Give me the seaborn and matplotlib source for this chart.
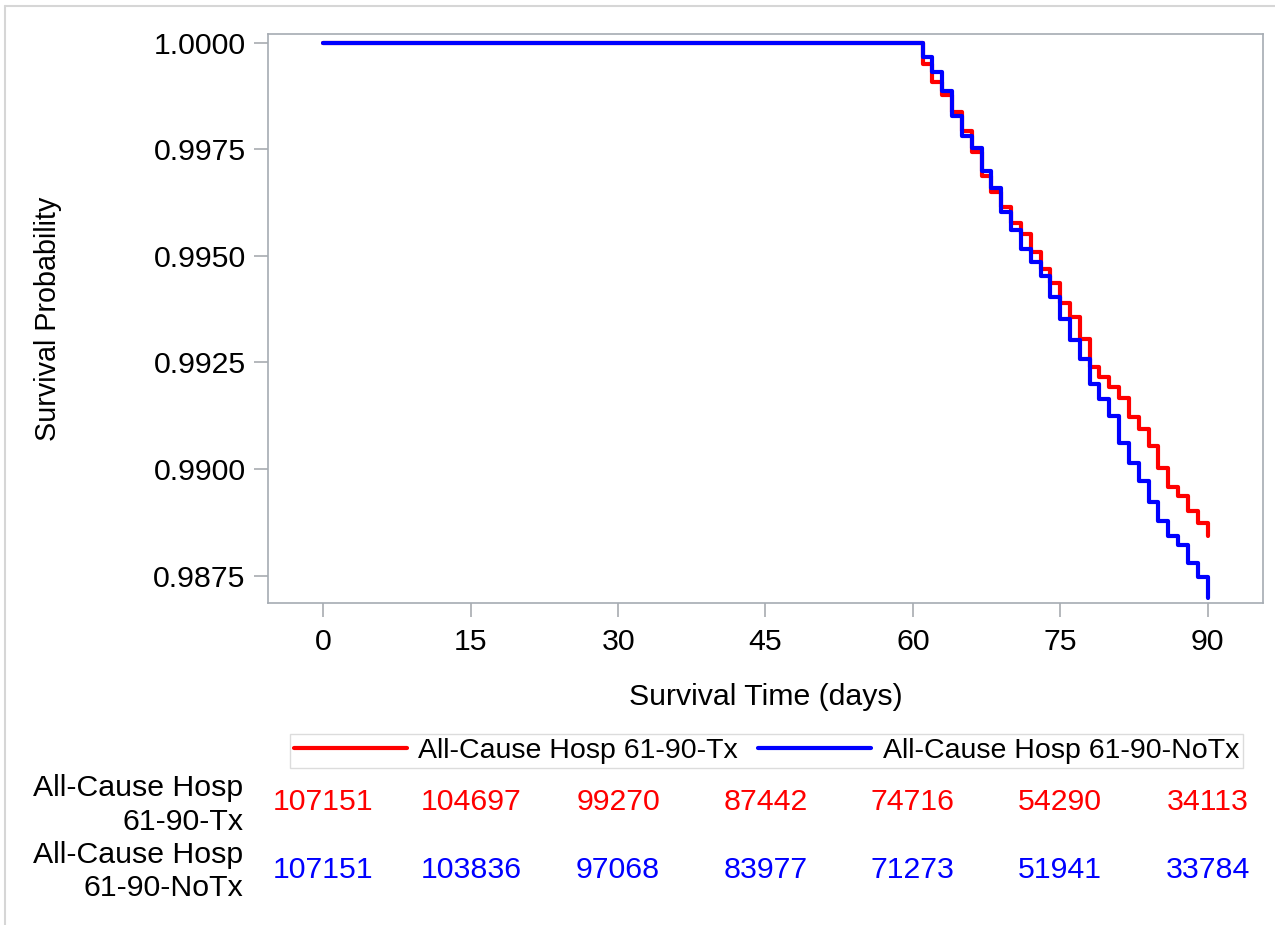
import matplotlib
matplotlib.use("Agg")
import matplotlib.pyplot as plt
import matplotlib.transforms as mtransforms
from matplotlib.lines import Line2D
import seaborn as sns
import numpy as np
import pandas as pd

# ========================================
# Data
# ========================================
days = [0, 61, 62, 63, 64, 65, 66, 67, 68, 69, 70, 71, 72, 73, 74, 75,
        76, 77, 78, 79, 80, 81, 82, 83, 84, 85, 86, 87, 88, 89, 90]

surv_tx = [1.0, 0.99950, 0.99907, 0.99878, 0.99838, 0.99792, 0.99743, 0.99687,
           0.99650, 0.99614, 0.99576, 0.99552, 0.99509, 0.99470, 0.99437, 0.99390,
           0.99357, 0.99306, 0.99239, 0.99215, 0.99193, 0.99166, 0.99122, 0.99094,
           0.99053, 0.99002, 0.98958, 0.98936, 0.98902, 0.98873, 0.98842]

surv_notx = [1.0, 0.99967, 0.99932, 0.99887, 0.99827, 0.99781, 0.99752, 0.99700,
             0.99658, 0.99603, 0.99560, 0.99517, 0.99486, 0.99453, 0.99404, 0.99351,
             0.99303, 0.99259, 0.99199, 0.99164, 0.99125, 0.99061, 0.99014, 0.98971,
             0.98922, 0.98877, 0.98842, 0.98822, 0.98780, 0.98746, 0.98698]

groups = ['All-Cause Hosp 61-90-Tx', 'All-Cause Hosp 61-90-NoTx']
colors = ['#ff0000', '#0000ff']

risk_times = [0, 15, 30, 45, 60, 75, 90]
risk_tx = [107151, 104697, 99270, 87442, 74716, 54290, 34113]
risk_notx = [107151, 103836, 97068, 83977, 71273, 51941, 33784]
row_labels = ['All-Cause Hosp\n61-90-Tx', 'All-Cause Hosp\n61-90-NoTx']

y_ticks = [0.9875, 0.9900, 0.9925, 0.9950, 0.9975, 1.0000]
x_ticks = [0, 15, 30, 45, 60, 75, 90]

# ========================================
# Build long table for seaborn
# ========================================
df = pd.concat([
    pd.DataFrame({'time': days, 'surv': surv_tx, 'group': groups[0]}),
    pd.DataFrame({'time': days, 'surv': surv_notx, 'group': groups[1]}),
], ignore_index=True)

# ========================================
# Plot
# ========================================
sns.set_style('white')
plt.rcParams['font.family'] = ['Liberation Sans', 'DejaVu Sans']
plt.rcParams['text.color'] = 'black'
plt.rcParams['axes.labelcolor'] = 'black'
fs = 21.8
W, H = 1275, 925

fig = plt.figure(figsize=(W / 100, H / 100), dpi=100)
ax = fig.add_axes([268 / W, 1 - 603.3 / H, (1263 - 268) / W, (603.3 - 33.7) / H])

sns.lineplot(data=df, x='time', y='surv', hue='group', hue_order=groups,
             palette=colors, drawstyle='steps-post', linewidth=3.0,
             estimator=None, legend=False, ax=ax)

ax.set_xlim(-5.65, 95.65)
ax.set_ylim(0.98685, 1.00021)
ax.set_xticks(x_ticks)
ax.set_yticks(y_ticks)
ax.set_yticklabels([f'{v:.4f}' for v in y_ticks])
ax.tick_params(axis='both', labelsize=fs, colors='#a0a4aa', labelcolor='black',
               length=10, width=1.1, direction='out', bottom=True, left=True)
ax.tick_params(axis='y', pad=6)
ax.tick_params(axis='x', pad=8)
for s in ax.spines.values():
    s.set_color('#a6acb3')
    s.set_linewidth(1.2)

ax.set_xlabel('Survival Time (days)', fontsize=fs)
ax.set_ylabel('Survival Probability', fontsize=20.7)
ax.xaxis.set_label_coords(0.5, (603.3 - 697) / (603.3 - 33.7))
ax.xaxis.label.set_va('center')
ax.yaxis.set_label_coords((48 - 268) / (1263 - 268), 0.5)
ax.yaxis.label.set_va('center')
ax.yaxis.label.set_ha('center')

# Legend
handles = [Line2D([], [], color=c, lw=3.0) for c in colors]
fig.legend(handles, groups, loc='center', ncol=2, fontsize=20.5,
           bbox_to_anchor=(766.5 / W, 1 - 751 / H),
           frameon=True, fancybox=False, edgecolor='#d4d4d4',
           handlelength=3.97, handletextpad=0.4, columnspacing=0.7,
           borderpad=0.14, borderaxespad=0)

# Number at risk table
trans = mtransforms.blended_transform_factory(ax.transData, fig.transFigure)
for counts, col, yc in [(risk_tx, colors[0], 801.7), (risk_notx, colors[1], 870.5)]:
    for t, n in zip(risk_times, counts):
        ax.text(t, 1 - yc / H, str(n), transform=trans, ha='center', va='center',
                fontsize=fs, color=col, clip_on=False)
for lab, yc in zip(row_labels, [805, 871.5]):
    fig.text(243 / W, 1 - yc / H, lab, ha='right', va='center', multialignment='right',
             fontsize=fs, linespacing=1.27)

# Figure border (top and left edges)
fig.add_artist(Line2D([5 / W, 1], [1 - 5.7 / H, 1 - 5.7 / H], transform=fig.transFigure,
                      color='#d6d6d6', lw=1.5))
fig.add_artist(Line2D([5 / W, 5 / W], [1 - 5.7 / H, 0], transform=fig.transFigure,
                      color='#d6d6d6', lw=1.5))

fig.savefig('out.png', dpi=100)
